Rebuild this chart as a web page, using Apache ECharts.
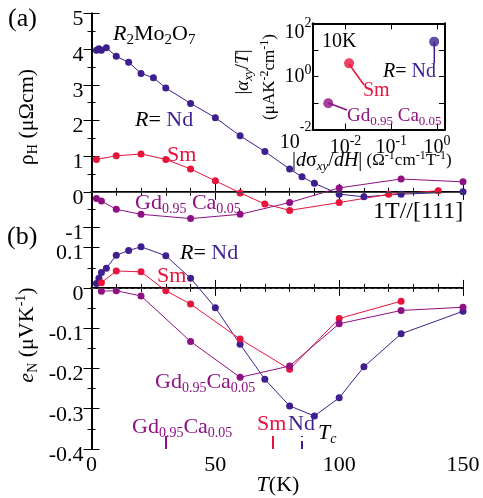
<!DOCTYPE html>
<html><head><meta charset="utf-8">
<script src="https://cdn.jsdelivr.net/npm/echarts@6/dist/echarts.min.js"></script>
<style>html,body{margin:0;padding:0;background:#fff}#c{width:483px;height:498px}</style>
</head><body><div id="c"></div>
<script>
// ---- data: panel (a) Hall resistivity rho_H (μΩcm) at 1T ----
const ndT_a = [2,3,4,6,10,15,20,25,30,40,50,60,70,80,85,90,100,110,125,150];
const ndRho = [3.97,4.01,3.97,4.04,3.80,3.63,3.32,3.20,2.91,2.48,2.08,1.57,1.13,0.64,0.42,0.24,-0.065,-0.14,-0.065,0.0];
const smT_a = [2,10,20,30,40,50,60,70,80,100,120,140];
const smRho = [0.91,1.01,1.06,0.91,0.64,0.31,-0.03,-0.34,-0.52,-0.30,-0.07,0.03];
const gdT_a = [2,4,10,20,40,60,80,100,125,150];
const gdRho = [-0.19,-0.26,-0.49,-0.63,-0.75,-0.63,-0.30,0.11,0.36,0.28];
// ---- data: panel (b) Nernst coefficient e_N (μV/K) ----
const ndT_b = [2,3,4,6,10,15,20,30,40,50,60,70,80,90,100,110,125,150];
const ndEN  = [0.011,0.024,0.038,0.049,0.081,0.093,0.102,0.080,0.024,-0.049,-0.140,-0.227,-0.293,-0.318,-0.273,-0.196,-0.114,-0.058];
const smT_b = [4,10,20,30,40,60,80,100,125];
const smEN  = [0.013,0.042,0.040,-0.007,-0.040,-0.127,-0.202,-0.076,-0.033];
const gdT_b = [4,10,20,40,60,80,100,125,150];
const gdEN  = [-0.008,-0.007,-0.020,-0.133,-0.222,-0.194,-0.089,-0.056,-0.048];
// Curie temperatures (K)
const tcGd = 30, tcSm = 73, tcNd = 85;
// ---- inset: |alpha_xy/T| vs |d sigma_xy/dH| at 10K ----
const insetNames = ['Nd','Sm','Gd'];
const insetDsig = [0.87, 0.012, 0.0042];
const insetAlpha = [20.4, 3.1, 0.097];
// ticks
const xTicks = [0,50,100,150];

const NDC = '#3f1f8f', SMC = '#e8143c', GDC = '#8e1082';
const FONT = 'Liberation Serif';

function ser(T, V, color, xi, yi, extra){
  return Object.assign({
    type:'line', xAxisIndex:xi, yAxisIndex:yi,
    data:T.map((t,i)=>[t,V[i]]),
    symbol:'circle', symbolSize:7, showAllSymbol:true,
    lineStyle:{color:color,width:1}, itemStyle:{color:color},
    animation:false, z:3
  }, extra||{});
}
function zeroLine(){
  return {silent:true, symbol:['none','none'], label:{show:false},
    lineStyle:{color:'#444',width:1,type:'solid'}, data:[{yAxis:0}], animation:false};
}
function tcMark(tc,color){
  return {silent:true, symbol:['none','none'], label:{show:false},
    lineStyle:{color:color,width:2,type:'solid'},
    data:[[{coord:[tc,-0.4]},{coord:[tc,-0.368]}]], animation:false};
}

const axLine = {show:true, lineStyle:{color:'#000',width:1.8}};
function xAx(grid, pos, labels){
  return {type:'value', gridIndex:grid, position:pos, min:0, max:150, interval:50,
    axisLine:axLine, axisTick:{show:true,inside:true,length:8,lineStyle:{color:'#000',width:1}},
    minorTick:{show:true,splitNumber:5,length:4,lineStyle:{color:'#000',width:1}},
    splitLine:{show:false}, minorSplitLine:{show:false},
    axisLabel:{show:labels, fontFamily:FONT, fontSize:22, color:'#000', margin:5}};
}
function yAx(grid, pos, labels, min, max, interval){
  return {type:'value', gridIndex:grid, position:pos, min:min, max:max, interval:interval,
    axisLine:axLine, axisTick:{show:true,inside:true,length:8,lineStyle:{color:'#000',width:1}},
    minorTick:{show:true,splitNumber:2,length:4,lineStyle:{color:'#000',width:1}},
    splitLine:{show:false}, minorSplitLine:{show:false},
    axisLabel:{show:labels, margin:8,
      formatter:function(v){ return '{v|'+String(parseFloat((+v).toFixed(2)))+'}'; },
      rich:{v:{fontFamily:FONT, fontSize:22, color:'#000', padding:[12,0,0,0]}},
      showMaxLabel: max===5, showMinLabel:true}};
}
function isPow(v){ const l=Math.log10(v); return Math.abs(l-Math.round(l))<0.01; }
const insetRich = {
  b:{fontFamily:FONT,fontSize:20,color:'#000'},
  s:{fontFamily:FONT,fontSize:14,color:'#000',padding:[0,0,12,0]},
  bd:{fontFamily:FONT,fontSize:20,color:'#000',padding:[18,0,0,0]},
  sd:{fontFamily:FONT,fontSize:14,color:'#000',padding:[0,0,0,0]},
  bdd:{fontFamily:FONT,fontSize:20,color:'#000',padding:[26,0,0,0]},
  sdd:{fontFamily:FONT,fontSize:14,color:'#000',padding:[0,0,4,0]}
};

const option = {
  animation:false,
  backgroundColor:'#fff',
  textStyle:{fontFamily:FONT},
  grid:[
    {left:91.5, top:13.5, width:371.5, height:214, show:false},
    {left:91.5, top:227.5, width:371.5, height:221.5, show:false},
    {left:312.5, top:23.3, width:132.5, height:106.2, show:true, backgroundColor:'#fff', borderColor:'#000', borderWidth:0, z:5}
  ],
  xAxis:[
    xAx(0,'bottom',false), xAx(0,'top',false),
    xAx(1,'bottom',true), xAx(1,'top',false),
    {type:'log', gridIndex:2, position:'bottom', min:0.0019, max:1.5, logBase:10,
     axisLine:{show:true,lineStyle:{color:'#000',width:2}},
     axisTick:{show:true,inside:true,length:6,lineStyle:{color:'#000'}},
     splitLine:{show:false},
     axisLabel:{show:true, margin:5, formatter:function(v){ if(!isPow(v)) return ''; const e=Math.round(Math.log10(v)); return '{b|10}{s|'+e+'}'; }, rich:insetRich}, z:6},
    {type:'log', gridIndex:2, position:'top', min:0.0019, max:1.5, logBase:10,
     axisLine:{show:true,lineStyle:{color:'#000',width:2}},
     axisTick:{show:true,inside:true,length:6,lineStyle:{color:'#000'}},
     splitLine:{show:false}, axisLabel:{show:false}, z:6}
  ],
  yAxis:[
    yAx(0,'left',true,-1,5,1), yAx(0,'right',false,-1,5,1),
    yAx(1,'left',true,-0.4,0.15,0.1), yAx(1,'right',false,-0.4,0.15,0.1),
    {type:'log', gridIndex:2, position:'left', min:0.01, max:100, logBase:10,
     axisLine:{show:true,lineStyle:{color:'#000',width:2}},
     axisTick:{show:true,inside:true,length:6,lineStyle:{color:'#000'}},
     splitLine:{show:false},
     axisLabel:{show:true, margin:1, formatter:function(v){ if(!isPow(v)) return ''; const e=Math.round(Math.log10(v)); if(e%2!==0) return '';
        if(e===2) return '{bd|10}{sd|2}'; if(e===-2) return '{bdd|10}{sdd|-2}'; return '{b|10}{s|'+e+'}'; }, rich:insetRich}, z:6},
    {type:'log', gridIndex:2, position:'right', min:0.01, max:100, logBase:10,
     axisLine:{show:true,lineStyle:{color:'#000',width:2}},
     axisTick:{show:true,inside:true,length:6,lineStyle:{color:'#000'}},
     splitLine:{show:false}, axisLabel:{show:false}, z:6}
  ],
  series:[
    ser(ndT_a, ndRho, NDC, 0, 0, {markLine: zeroLine()}),
    ser(smT_a, smRho, SMC, 0, 0),
    ser(gdT_a, gdRho, GDC, 0, 0),
    ser(ndT_b, ndEN, NDC, 2, 2, {markLine: {silent:true, symbol:['none','none'], label:{show:false}, animation:false,
        data:[[{coord:[0,0],lineStyle:{color:'#444',width:1}},{coord:[150,0]}],
              [{coord:[tcNd,-0.4],lineStyle:{color:NDC,width:2}},{coord:[tcNd,-0.368]}]]}}),
    ser(smT_b, smEN, SMC, 2, 2, {markLine: tcMark(tcSm, SMC)}),
    ser(gdT_b, gdEN, GDC, 2, 2, {markLine: tcMark(tcGd, GDC)}),
    {type:'scatter', xAxisIndex:4, yAxisIndex:4, data:[[insetDsig[0],insetAlpha[0]]], symbolSize:10, itemStyle:{color:NDC}, z:10, animation:false},
    {type:'scatter', xAxisIndex:4, yAxisIndex:4, data:[[insetDsig[1],insetAlpha[1]]], symbolSize:10, itemStyle:{color:SMC}, z:10, animation:false},
    {type:'scatter', xAxisIndex:4, yAxisIndex:4, data:[[insetDsig[2],insetAlpha[2]]], symbolSize:10, itemStyle:{color:GDC}, z:10, animation:false}
  ],
  graphic:[]
};

function txt(x,y,text,opts){
  opts=opts||{};
  const c = opts.color||'#000', sz = opts.size||22, sb = opts.sub||14;
  const rich = {
    i:{fontFamily:FONT,fontStyle:'italic',fontSize:sz,fill:c},
    s:{fontFamily:FONT,fontSize:sb,fill:c,padding:[12,0,0,0]},
    p:{fontFamily:FONT,fontSize:sb,fill:c,padding:[0,0,12,0]},
    nd:{fontFamily:FONT,fontSize:sz,fill:NDC},
    si:{fontFamily:FONT,fontStyle:'italic',fontSize:sb,fill:c,padding:[12,0,0,0]},
    sm:{fontFamily:FONT,fontSize:opts.smallSize||17,fill:c},
    sp:{fontFamily:FONT,fontSize:12,fill:c,padding:[0,0,11,0]}
  };
  return {type:'text', x:x, y:y, rotation:opts.rot||0, z:100, silent:true,
    style:{text:text, fontFamily:FONT, fontSize:sz, fill:c,
      align:opts.align||'left', verticalAlign:'middle', rich:rich}};
}
function seg(x1,y1,x2,y2,color){
  return {type:'line', z:100, silent:true, shape:{x1:x1,y1:y1,x2:x2,y2:y2}, style:{stroke:color,lineWidth:1.5}};
}
const R90 = Math.PI/2;
option.graphic = [
  txt(8,19,'(a)',{size:26}),
  txt(7,237,'(b)',{size:26}),
  txt(27,117,'ρ{s|H} (μΩcm)',{rot:R90,align:'center',size:22}),
  txt(27,335,'{i|e}{s|N} (μVK{p|-1})',{rot:R90,align:'center',size:22}),
  txt(278,485,'{i|T}(K)',{align:'center',size:22}),
  txt(113,34,'{i|R}{s|2}Mo{s|2}O{s|7}',{size:22,sub:15}),
  txt(135,120,'{i|R}= {nd|Nd}',{size:22}),
  txt(167,155,'Sm',{size:22,color:SMC}),
  txt(135,203,'Gd{s|0.95} Ca{s|0.05}',{size:22,color:GDC}),
  txt(373,212,'1T//[111]',{size:24}),
  // inset
  txt(322,42,'10K',{size:20}),
  txt(383,72,'{i|R}= {nd|Nd}',{size:20}),
  txt(363,91,'Sm',{size:20,color:SMC}),
  txt(347,116,'Gd{s|0.95} Ca{s|0.05}',{size:19,sub:13,color:GDC}),
  txt(243,72,'|{i|α}{si|xy}/{i|T}|',{rot:R90,align:'center',size:19,sub:13}),
  txt(270,77,'{sm|(μAK}{sp|-2}{sm|cm}{sp|-1}{sm|)}',{rot:R90,align:'center',size:17}),
  txt(292,161,'|{i|d}σ{si|xy}/{i|dH}|{sm| (Ω}{sp|-1}{sm|cm}{sp|-1}{sm|T}{sp|-1}{sm|)}',{size:20,sub:13}),
  seg(434.3,42,434.3,63,NDC),
  seg(349,64,364,85,SMC),
  seg(328.5,103,347,110,GDC),
  // panel b
  txt(180,253,'{i|R}= {nd|Nd}',{size:22}),
  txt(157,276,'Sm',{size:22,color:SMC}),
  txt(155,382,'Gd{s|0.95}Ca{s|0.05}',{size:22,color:GDC}),
  txt(132,427,'Gd{s|0.95}Ca{s|0.05}',{size:22,color:GDC}),
  txt(257,424,'Sm',{size:22,color:SMC}),
  txt(288,424,'{nd|Nd}',{size:22}),
  txt(318,433,'{i|T}{si|c}',{size:22})
];

const chart = echarts.init(document.getElementById('c'), null, {renderer:'canvas'});
chart.setOption(option);
</script>
</body></html>
